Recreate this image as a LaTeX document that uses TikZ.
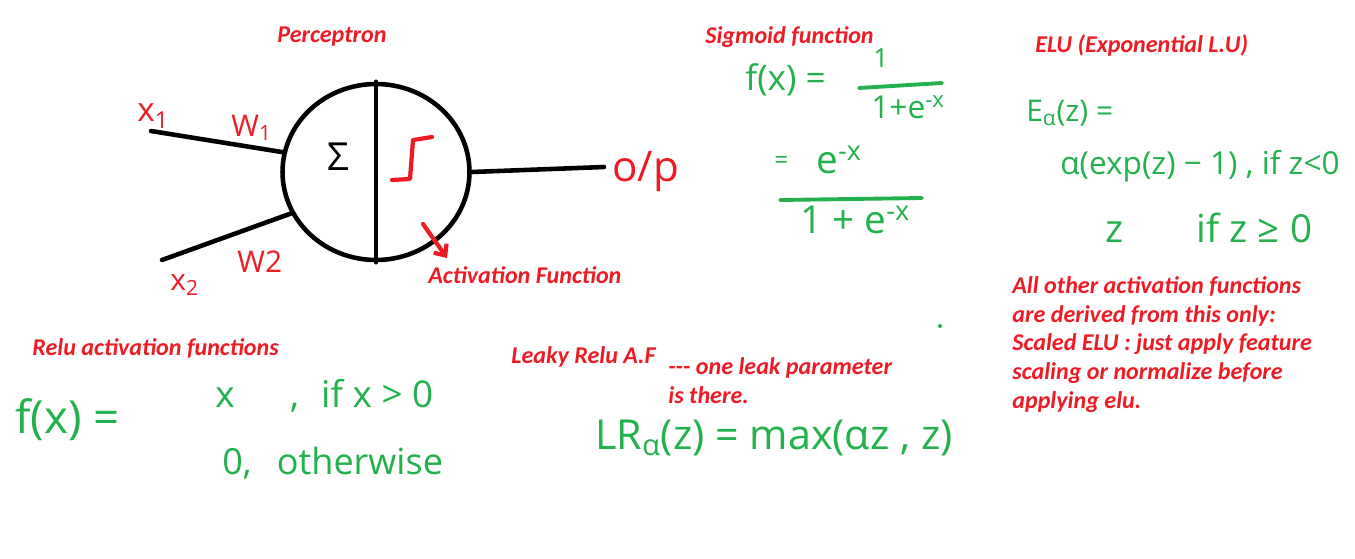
\documentclass[tikz,border=0pt]{standalone}
\usepackage{fontspec}
\setmainfont{Carlito}
\newfontfamily\handfont{Open Sans}
\usetikzlibrary{shapes.geometric,arrows.meta}
\definecolor{paintred}{RGB}{237,28,36}
\definecolor{paintgreen}{RGB}{34,177,76}

\begin{document}
\begin{tikzpicture}[x=0.02cm, y=-0.02cm,
    title/.style={text=paintred, font=\fontsize{13.7}{16.4}\selectfont\bfseries\itshape, anchor=west, inner sep=0pt},
    hand/.style={text=paintgreen, font=\handfont\fontsize{#1}{#1}\selectfont, anchor=west, inner sep=0pt},
    redhand/.style={text=paintred, font=\handfont\fontsize{#1}{#1}\selectfont, inner sep=0pt},
    wire/.style={line width=2.6pt, line cap=round},
    pen/.style={paintgreen, line width=2.2pt, line cap=round},
    redpen/.style={paintred, line width=2.4pt, line cap=round, line join=round}]
  \useasboundingbox[fill=white] (0,0) rectangle (1355,558);
  % Perceptron
  \node[title] (perctitle) at (277,37) {Perceptron};
  \node[draw, wire, ellipse, minimum width=3.74cm, minimum height=3.52cm, inner sep=0pt] (neuron) at (376,172) {};
  \draw[wire] (neuron.north) -- (neuron.south);
  \coordinate (xin1) at (151,131);
  \coordinate (xin2) at (162,260);
  \coordinate (yout) at (604,167);
  \draw[wire] (xin1) -- (neuron.168);
  \draw[wire] (xin2) -- (neuron.206);
  \draw[wire] (neuron.east) -- (yout);
  \node[redhand=19, anchor=west] (x1lbl) at (137,116) {x\textsubscript{1}};
  \node[redhand=17, anchor=west] (w1lbl) at (231,128) {W\textsubscript{1}};
  \node[redhand=17, anchor=west] (x2lbl) at (170,285) {x\textsubscript{2}};
  \node[redhand=17, anchor=west] (w2lbl) at (237,262) {W2};
  \node[redhand=24, anchor=west] (oplbl) at (612,172) {o/p};
  \node[font=\handfont\fontsize{22}{22}\selectfont, inner sep=0pt] (sumsym) at (338,157) {Σ};
  \draw[redpen] (392,180) -- (410,179) -- (413,140) -- (432,137);
  \coordinate (actfrom) at (423,224);
  \coordinate (actto) at (447,258);
  \draw[redpen, -{Straight Barb[length=5pt, width=9pt]}] (actfrom) -- (actto);
  \node[title] (actlbl) at (428,275) {Activation Function};
  % Sigmoid
  \node[title] (sigtitle) at (705,37) {Sigmoid function};
  \node[hand=20] (sigf) at (745,80) {f(x) =};
  \node[hand=15, anchor=center] (signum) at (881,58) {1};
  \draw[pen] (859,88) -- (942,83);
  \node[hand=18] (sigden) at (871,107) {1+e\textsuperscript{-x}};
  \node[hand=14] (sigeq) at (774,163) {=};
  \node[hand=22] (signum2) at (816,160) {e\textsuperscript{-x}};
  \draw[pen] (780,200) -- (922,198);
  \node[hand=22] (sigden2) at (800,220) {1 + e\textsuperscript{-x}};
  % ELU
  \node[title] (elutitle) at (1035,45) {ELU (Exponential L.U)};
  \node[hand=17] (eluf) at (1026,113) {E\textsubscript{α}(z) =};
  \node[hand=18] (elucase1) at (1060,166) {α(exp(z) − 1) , if z<0};
  \node[hand=22] (elucase2) at (1105,228) {z\hspace{1.9em}if z ≥ 0};
  \node[title, anchor=north west, align=left] (elunote) at (1012,276)
    {All other activation functions\\are derived from this only:\\Scaled ELU : just apply feature\\scaling or normalize before\\applying elu.};
  \fill[paintgreen] (940,326) circle (2);
  % Relu
  \node[title] (relutitle) at (32,348) {Relu activation functions};
  \node[hand=26] (reluf) at (15,420) {f(x) =};
  \node[hand=21] (relucase1) at (215,396) {x\hspace{1.5em},\hspace{0.6em}if x > 0};
  \node[hand=20.5] (relucase2) at (222,463) {0,\hspace{0.7em}otherwise};
  % Leaky Relu
  \node[title] (lrtitle) at (511,357) {Leaky Relu A.F};
  \node[title, anchor=north west, align=left] (lrnote) at (668,357) {-{}-{}- one leak parameter\\is there.};
  \node[hand=23.5] (lrf) at (595,438) {LR\textsubscript{α}(z) = max(αz , z)};
\end{tikzpicture}
\end{document}
